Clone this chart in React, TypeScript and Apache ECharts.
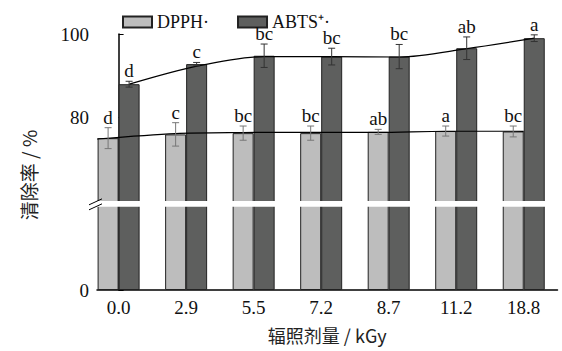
import React, { useEffect, useRef } from 'react';
import * as echarts from 'echarts';

// ---------- data ----------
const categories = ['0.0', '2.9', '5.5', '7.2', '8.7', '11.2', '18.8'];
const dpph = [75.1, 76.0, 76.3, 76.3, 76.6, 76.8, 76.7];
const dpphErr = [2.5, 2.8, 1.7, 1.7, 0.6, 1.2, 1.3];
const dpphLetters = ['d', 'c', 'bc', 'bc', 'ab', 'a', 'bc'];
const abts = [88.0, 92.8, 94.8, 94.6, 94.6, 96.6, 99.0];
const abtsErr = [0.7, 0.4, 2.8, 2.0, 2.9, 2.7, 0.8];
const abtsLetters = ['d', 'c', 'bc', 'bc', 'bc', 'ab', 'a'];
// smooth trend curves, sampled at the x positions below (category index units)
const dpphTrendX = [-0.32, 0.84, 1.84, 2.84, 3.84, 4.84, 5.84, 6.0];
const dpphTrend = [74.9, 76.2, 76.45, 76.5, 76.5, 76.75, 76.75, 76.7];
const abtsTrendX = [0.16, 1.16, 2.16, 3.16, 4.16, 5.16, 6.16];
const abtsTrend = [88.0, 92.3, 94.6, 94.6, 94.5, 96.5, 99.0];
const yTickLabels = [0, 80, 100];

// ---------- broken-axis transform ----------
const AXIS_SHIFT = 38.8; // values >= 60 are shifted down so 60..100 sits above the break
const toDisplay = (v: number) => (v <= 0 ? 0 : v - AXIS_SHIFT);
const yTickDisplay = yTickLabels.map(toDisplay);
const BREAK_LOW = 19.9;
const BREAK_HIGH = 21.3;

const FONT = "'Liberation Serif'";
const CJK = "'Noto Sans CJK SC'";
const BAR_W = 21;
const LIGHT = '#bdbdbd';
const DARK = '#5e5f5e';

function errSeries(name: string, vals: number[], errs: number[], letters: string[], dir: number, color: string) {
  return {
    type: 'custom',
    name,
    z: 6,
    silent: true,
    data: vals.map((v, i) => [i, toDisplay(v), toDisplay(v - errs[i]), toDisplay(v + errs[i])]),
    renderItem: (params: any, api: any) => {
      const i = api.value(0);
      const lo = api.coord([i, api.value(2)]);
      const hi = api.coord([i, api.value(3)]);
      const x = lo[0] + (dir * BAR_W) / 2;
      const cap = 3.5;
      const st = { stroke: color, lineWidth: 1 };
      return {
        type: 'group',
        children: [
          { type: 'line', shape: { x1: x, y1: lo[1], x2: x, y2: hi[1] }, style: st },
          { type: 'line', shape: { x1: x - cap, y1: lo[1], x2: x + cap, y2: lo[1] }, style: st },
          { type: 'line', shape: { x1: x - cap, y1: hi[1], x2: x + cap, y2: hi[1] }, style: st },
          {
            type: 'text',
            x,
            y: hi[1] - 1,
            style: {
              text: letters[params.dataIndex],
              align: 'center',
              verticalAlign: 'bottom',
              textAlign: 'center',
              textVerticalAlign: 'bottom',
              fontSize: 19,
              fontFamily: FONT,
              fill: '#111',
            },
          },
        ],
      };
    },
  };
}

export default function App() {
  const ref = useRef<HTMLDivElement>(null);
  useEffect(() => {
    if (!ref.current) return;
    const chart = echarts.init(ref.current, undefined, { renderer: 'svg' });
    const option: any = {
      animation: false,
      backgroundColor: '#fff',
      grid: { left: 97, right: 4.5, top: 34, bottom: 61, containLabel: false, outerBoundsMode: 'none' },
      legend: {
        data: ['DPPH·', 'ABTS⁺·'],
        left: 122,
        top: 13,
        padding: 0,
        itemWidth: 29,
        itemHeight: 11,
        itemGap: 28,
        icon: 'rect',
        textStyle: { fontFamily: FONT, fontSize: 18, color: '#111' },
      },
      xAxis: {
        type: 'value',
        min: -0.32,
        max: 6.5,
        splitLine: { show: false },
        axisTick: { show: false },
        axisLine: { lineStyle: { color: '#000', width: 1.5 } },
        axisLabel: {
          customValues: categories.map((_, i) => i),
          formatter: (v: number) => categories[Math.round(v)],
          fontFamily: FONT,
          fontSize: 19,
          color: '#111',
          margin: 8,
        },
        name: '辐照剂量 / kGy',
        nameLocation: 'middle',
        nameGap: 36,
        nameTextStyle: { fontFamily: CJK, fontSize: 18, color: '#222' },
      },
      yAxis: {
        type: 'value',
        min: 0,
        max: toDisplay(100),
        splitLine: { show: false },
        axisLine: { show: true, lineStyle: { color: '#000', width: 1.5 } },
        axisTick: { show: true, inside: true, length: 5, customValues: yTickDisplay, lineStyle: { color: '#000' } },
        axisLabel: {
          customValues: yTickDisplay,
          formatter: (v: number) => {
            const idx = yTickDisplay.findIndex((d) => Math.abs(d - v) < 0.01);
            return idx >= 0 ? String(yTickLabels[idx]) : '';
          },
          fontFamily: FONT,
          fontSize: 19,
          color: '#111',
          margin: 8,
        },
      },
      series: [
        {
          name: 'DPPH·',
          type: 'bar',
          barWidth: BAR_W,
          barGap: '0%',
          data: dpph.map((v, i) => [i, toDisplay(v)]),
          itemStyle: { color: LIGHT, borderColor: '#222', borderWidth: 1 },
        },
        {
          name: 'ABTS⁺·',
          type: 'bar',
          barWidth: BAR_W,
          barGap: '0%',
          data: abts.map((v, i) => [i, toDisplay(v)]),
          itemStyle: { color: DARK, borderColor: '#222', borderWidth: 1 },
        },
        {
          name: 'dpphTrend',
          type: 'line',
          smooth: 0.3,
          symbol: 'none',
          z: 5,
          silent: true,
          data: dpphTrend.map((v, i) => [dpphTrendX[i], toDisplay(v)]),
          lineStyle: { color: '#000', width: 1.2 },
        },
        {
          name: 'abtsTrend',
          type: 'line',
          smooth: 0.3,
          symbol: 'none',
          z: 5,
          silent: true,
          data: abtsTrend.map((v, i) => [abtsTrendX[i], toDisplay(v)]),
          lineStyle: { color: '#000', width: 1.2 },
        },
        errSeries('dpphErr', dpph, dpphErr, dpphLetters, -1, '#777'),
        errSeries('abtsErr', abts, abtsErr, abtsLetters, 1, '#333'),
      ],
    };
    chart.setOption(option);

    const yHi = chart.convertToPixel({ yAxisIndex: 0 }, BREAK_HIGH) as number;
    const yLo = chart.convertToPixel({ yAxisIndex: 0 }, BREAK_LOW) as number;
    const xAxis0 = chart.convertToPixel({ xAxisIndex: 0 }, -0.32) as number;
    const xAxis1 = chart.convertToPixel({ xAxisIndex: 0 }, 6.5) as number;
    const yMid = (yHi + yLo) / 2;
    chart.setOption({
      graphic: [
        {
          type: 'rect',
          z: 100,
          shape: { x: xAxis0 - 2, y: yHi, width: xAxis1 - xAxis0 + 4, height: yLo - yHi },
          style: { fill: '#fff' },
        },
        {
          type: 'line',
          z: 101,
          shape: { x1: xAxis0 - 8, y1: yMid + 1, x2: xAxis0 + 5, y2: yMid - 5 },
          style: { stroke: '#000', lineWidth: 1 },
        },
        {
          type: 'line',
          z: 101,
          shape: { x1: xAxis0 - 8, y1: yMid + 6, x2: xAxis0 + 5, y2: yMid },
          style: { stroke: '#000', lineWidth: 1 },
        },
        {
          type: 'text',
          z: 101,
          x: 28,
          y: 175,
          rotation: Math.PI / 2,
          style: {
            text: '清除率 / %',
            align: 'center',
            verticalAlign: 'middle',
            textAlign: 'center',
            textVerticalAlign: 'middle',
            fontSize: 19,
            fontFamily: CJK,
            fill: '#222',
          },
        },
      ],
    });
    return () => chart.dispose();
  }, []);
  return <div ref={ref} style={{ position: 'fixed', left: 0, top: 0, width: 562, height: 351 }} />;
}
